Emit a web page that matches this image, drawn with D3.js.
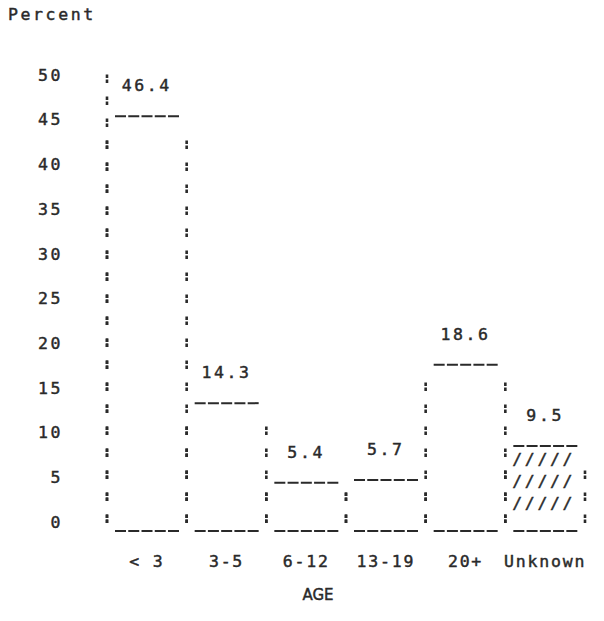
<!DOCTYPE html>
<html><head><meta charset="utf-8">
<script src="https://cdn.jsdelivr.net/npm/d3@7/dist/d3.min.js"></script>
<style>
body{margin:0;background:#fff;}
text{font-family:"DejaVu Sans Mono",monospace;fill:#2a2a2a;stroke:#2a2a2a;stroke-width:0.45px;}
</style></head>
<body><svg id="chart" width="604" height="621"></svg>
<script>
const categories = ["< 3", "3-5", "6-12", "13-19", "20+", "Unknown"];
const values = [46.4, 14.3, 5.4, 5.7, 18.6, 9.5];
const yTicks = [0, 5, 10, 15, 20, 25, 30, 35, 40, 45, 50];
const yTitle = "Percent";
const xTitle = "AGE";

const svg = d3.select("#chart");
const ink = "#2a2a2a";
const fs = 16.5, ls = 2.6;

const x = d3.scaleBand().domain(categories).range([107, 585]).padding(0);
const y = d3.scaleLinear().domain([0, 50]).range([531, 84]);
const bottom = y(0);

const step = 22, firstGap = 8, colon = 8.5;
function vline(xp, yTop) {
  const k = Math.max(0, Math.floor((bottom - yTop - firstGap - colon) / step));
  const len = firstGap + colon + k * step;
  svg.append("line")
    .attr("x1", xp).attr("x2", xp)
    .attr("y1", bottom).attr("y2", bottom - len)
    .attr("stroke", ink).attr("stroke-width", 2.6)
    .attr("stroke-dasharray", "3.5,1.5,3.5,13.5")
    .attr("stroke-dashoffset", step - firstGap);
}
function hline(x0, yp) {
  svg.append("line")
    .attr("x1", x0 + 8).attr("x2", x0 + 8 + 64)
    .attr("y1", yp).attr("y2", yp)
    .attr("stroke", ink).attr("stroke-width", 2)
    .attr("stroke-dasharray", "11,2.25");
}

// Y title
svg.append("text").attr("x", 8).attr("y", 20)
  .attr("font-size", fs).attr("letter-spacing", ls).text(yTitle);

// Y axis labels
const yAxis = d3.axisLeft(y).tickValues(yTicks).tickSize(0).tickPadding(0);
const gy = svg.append("g").attr("transform", "translate(63,-9)").call(yAxis);
gy.select(".domain").remove();
gy.selectAll("text")
  .attr("font-size", fs).attr("letter-spacing", ls)
  .style("font-family", '"DejaVu Sans Mono",monospace')
  .attr("fill", ink).attr("stroke", ink).attr("stroke-width", 0.45);

// left axis dotted line
vline(x.range()[0], y(50) - 12);

// Bars
categories.forEach((c, i) => {
  const v = values[i];
  const x0 = x(c), x1 = x0 + x.bandwidth();
  const yt = y(v);
  vline(x0, yt + 4);
  vline(x1, yt + 4);
  hline(x0, yt);
  hline(x0, bottom);
  svg.append("text")
    .attr("x", x0 + x.bandwidth() / 2).attr("y", yt - 25)
    .attr("text-anchor", "middle")
    .attr("font-size", fs).attr("letter-spacing", ls)
    .text(v.toFixed(1));
  if (c === "Unknown") {
    for (let k = 1; ; k++) {
      const by = bottom - 22 * k;
      if (by - 11 < yt) break;
      svg.append("text").attr("x", x0 + 7).attr("y", by)
        .attr("font-size", fs).attr("letter-spacing", ls).text("/////");
    }
  }
});

// X axis labels
const xAxis = d3.axisBottom(x).tickSize(0).tickPadding(0);
const gx = svg.append("g").attr("transform", "translate(0,555)").call(xAxis);
gx.select(".domain").remove();
gx.selectAll("text")
  .attr("font-size", fs).attr("letter-spacing", 1.8)
  .style("font-family", '"DejaVu Sans Mono",monospace')
  .attr("fill", ink).attr("stroke", ink).attr("stroke-width", 0.45)
  .attr("dy", "0.71em");

svg.append("text").attr("x", 318).attr("y", 600)
  .attr("text-anchor", "middle")
  .style("font-family", '"DejaVu Sans",sans-serif')
  .attr("font-size", 15).text(xTitle);
</script></body></html>
